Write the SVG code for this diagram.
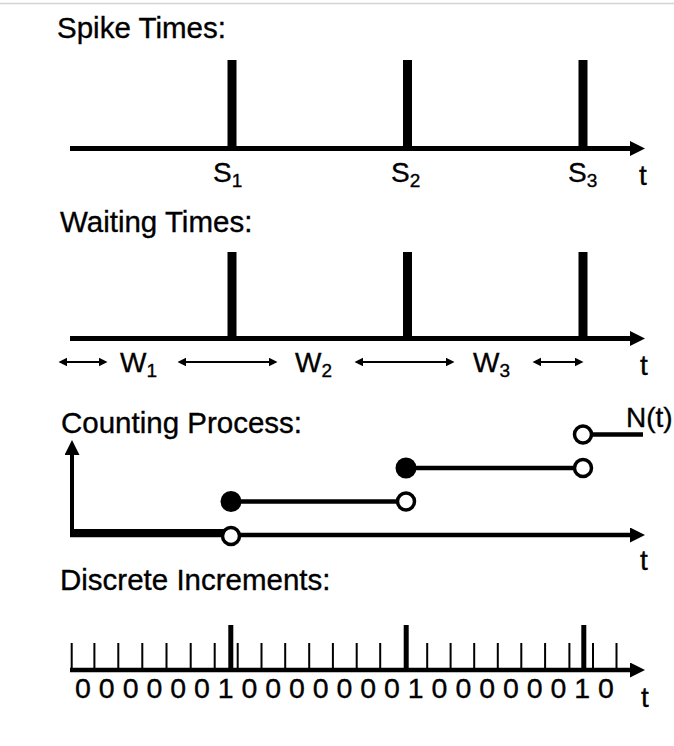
<svg xmlns="http://www.w3.org/2000/svg" width="674" height="746" viewBox="0 0 674 746">
<style>
  text { font-family: "Liberation Sans", Arial, Helvetica, sans-serif; fill: #000; stroke: #000; stroke-width: 0.35px; }
  .hdr { font-size: 29.5px; }
  .lbl { font-size: 28px; }
  .sub { font-size: 19px; }
  .axis { stroke: #000; stroke-width: 5; fill: none; }
  .axis2 { stroke: #000; stroke-width: 4.5; fill: none; }
  .spike { fill: #000; }
  .dbl { stroke: #000; stroke-width: 2; fill: none; }
  .lvl { stroke: #000; stroke-width: 4.5; fill: none; }
  .open { fill: #fff; stroke: #000; stroke-width: 3.5; }
  .filled { fill: #000; }
  .tick { stroke: #000; stroke-width: 2; fill: none; }
</style>
<defs>
  <marker id="bigArrow" markerUnits="userSpaceOnUse" markerWidth="16" markerHeight="16" refX="0" refY="7.5" orient="auto" viewBox="0 0 16 16">
    <path d="M0,0 L15,7.5 L0,15 z" fill="#000"/>
  </marker>
  <marker id="smallArrow" markerUnits="userSpaceOnUse" markerWidth="10" markerHeight="10" refX="6" refY="4.25" orient="auto-start-reverse" viewBox="0 0 10 10">
    <path d="M0,0 L8.5,4.25 L0,8.5 z" fill="#000"/>
  </marker>
</defs>

<line x1="0" y1="3.5" x2="674" y2="3.5" stroke="#d4d4d4" stroke-width="1.5"/>

<g id="spike-times">
  <text class="hdr" x="57" y="38">Spike Times:</text>
  <line class="axis" x1="70" y1="148.5" x2="630" y2="148.5" marker-end="url(#bigArrow)"/>
  <rect class="spike" x="227.5" y="60" width="9" height="88"/>
  <rect class="spike" x="403" y="60" width="9" height="88"/>
  <rect class="spike" x="578.5" y="60" width="9" height="88"/>
  <text class="lbl" x="213" y="182">S<tspan class="sub" dy="5">1</tspan></text>
  <text class="lbl" x="391" y="182">S<tspan class="sub" dy="5">2</tspan></text>
  <text class="lbl" x="568" y="182">S<tspan class="sub" dy="5">3</tspan></text>
  <text class="lbl" x="639" y="185">t</text>
</g>

<g id="waiting-times">
  <text class="hdr" x="60" y="232">Waiting Times:</text>
  <line class="axis" x1="70" y1="338.5" x2="630" y2="338.5" marker-end="url(#bigArrow)"/>
  <rect class="spike" x="227.5" y="252" width="9" height="86"/>
  <rect class="spike" x="403" y="252" width="9" height="86"/>
  <rect class="spike" x="578.5" y="252" width="9" height="86"/>
  <line class="dbl" x1="61" y1="362" x2="105" y2="362" marker-start="url(#smallArrow)" marker-end="url(#smallArrow)"/>
  <line class="dbl" x1="180" y1="362" x2="275" y2="362" marker-start="url(#smallArrow)" marker-end="url(#smallArrow)"/>
  <line class="dbl" x1="357" y1="362" x2="452" y2="362" marker-start="url(#smallArrow)" marker-end="url(#smallArrow)"/>
  <line class="dbl" x1="535" y1="362" x2="581" y2="362" marker-start="url(#smallArrow)" marker-end="url(#smallArrow)"/>
  <text class="lbl" x="120" y="372">W<tspan class="sub" dy="5">1</tspan></text>
  <text class="lbl" x="295" y="372">W<tspan class="sub" dy="5">2</tspan></text>
  <text class="lbl" x="473" y="372">W<tspan class="sub" dy="5">3</tspan></text>
  <text class="lbl" x="640" y="375">t</text>
</g>

<g id="counting-process">
  <text class="hdr" x="61" y="433">Counting Process:</text>
  <line class="axis2" x1="70" y1="535" x2="630" y2="535" marker-end="url(#bigArrow)"/>
  <line stroke="#000" stroke-width="4" x1="72" y1="537" x2="72" y2="455" marker-end="url(#bigArrow)"/>
  <rect x="70" y="529" width="161" height="8" fill="#000"/>
  <line class="lvl" x1="231" y1="501.5" x2="406" y2="501.5"/>
  <line class="lvl" x1="406" y1="468" x2="583" y2="468"/>
  <line class="lvl" x1="583" y1="434.5" x2="643" y2="434.5"/>
  <circle class="filled" cx="231" cy="501.5" r="10.5"/>
  <circle class="filled" cx="406" cy="468" r="10.5"/>
  <circle class="open" cx="231" cy="536" r="8.5"/>
  <circle class="open" cx="406" cy="501.5" r="8.5"/>
  <circle class="open" cx="583" cy="468" r="8.5"/>
  <circle class="open" cx="583" cy="434.5" r="8.5"/>
  <text class="lbl" x="626" y="427">N(t)</text>
  <text class="lbl" x="640" y="570">t</text>
</g>

<g id="discrete-increments">
  <text class="hdr" x="60" y="590">Discrete Increments:</text>
  <line class="axis2" x1="70" y1="670" x2="630" y2="670" marker-end="url(#bigArrow)"/>
  <path class="tick" d="M71.7,643V670 M94.4,643V670 M118.3,643V670 M142.3,643V670 M166.5,643V670 M190.7,643V670 M214.7,643V670 M237.7,643V670 M261.5,643V670 M285.2,643V670 M309.2,643V670 M332.9,643V670 M356.7,643V670 M380.2,643V670 M427.2,643V670 M450.6,643V670 M474.2,643V670 M497.8,643V670 M521.3,643V670 M545.1,643V670 M569.4,643V670 M593,643V670 M616.5,643V670"/>
  <rect class="spike" x="228.3" y="625" width="5" height="45"/>
  <rect class="spike" x="403.7" y="625" width="5" height="45"/>
  <rect class="spike" x="581.3" y="625" width="5" height="45"/>
  <text class="lbl" x="75.1" y="698" style="font-size:28.5px" xml:space="preserve">0 0 0 0 0 0 1 0 0 0 0 0 0 0 1 0 0 0 0 0 0 1 0</text>
  <text class="lbl" x="641" y="707">t</text>
</g>
</svg>
